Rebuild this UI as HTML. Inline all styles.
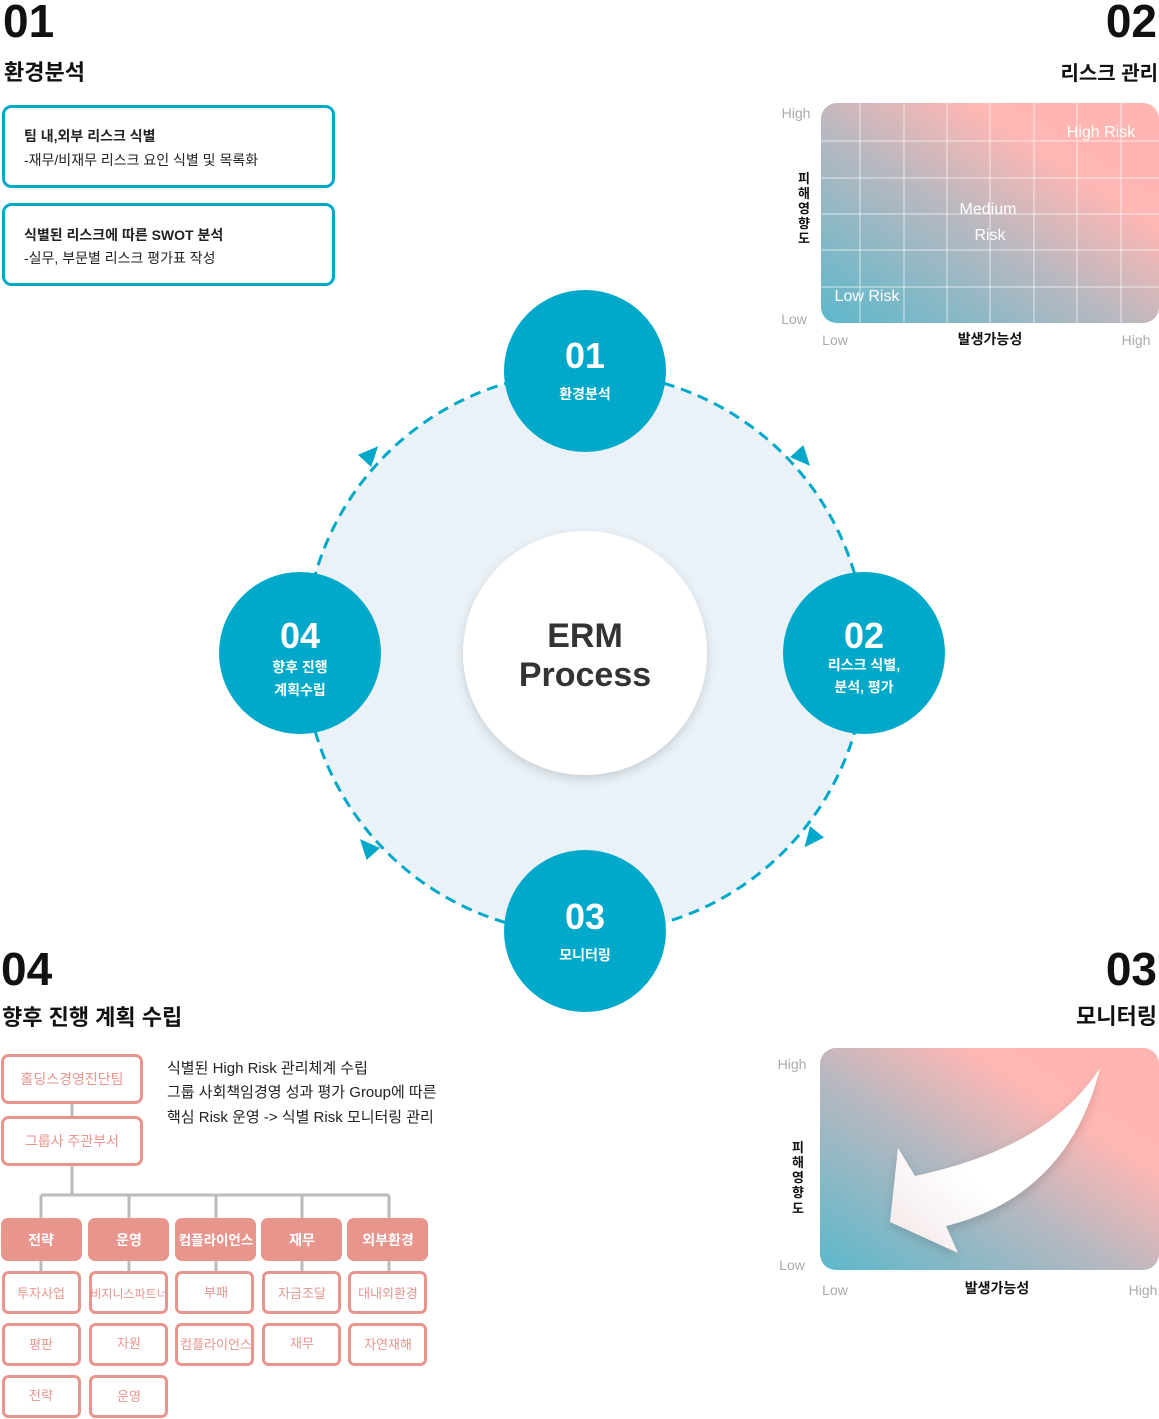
<!DOCTYPE html>
<html><head><meta charset="utf-8"><style>
html,body{margin:0;padding:0;background:#fff;}
svg{display:block;}
text{font-family:"Liberation Sans","Noto Sans CJK KR",sans-serif;}
</style></head><body>
<svg width="1159" height="1419" viewBox="0 0 1159 1419" xmlns="http://www.w3.org/2000/svg">
<defs>
<linearGradient id="g1" x1="0" y1="1" x2="1" y2="0">
<stop offset="0" stop-color="#5bb8cb"/><stop offset="0.45" stop-color="#b9b8c0"/><stop offset="0.72" stop-color="#ffb7b3"/><stop offset="1" stop-color="#ffb5b1"/>
</linearGradient>
<linearGradient id="g2" x1="0" y1="1" x2="1" y2="0">
<stop offset="0" stop-color="#5bb8cb"/><stop offset="0.45" stop-color="#b9b8c0"/><stop offset="0.72" stop-color="#ffb7b3"/><stop offset="1" stop-color="#ffb5b1"/>
</linearGradient>
<linearGradient id="ga" x1="0" y1="1" x2="1" y2="0">
<stop offset="0" stop-color="#f3e6e6"/><stop offset="0.4" stop-color="#ffffff"/><stop offset="1" stop-color="#ffffff"/>
</linearGradient>
<filter id="sh" x="-20%" y="-20%" width="140%" height="140%"><feDropShadow dx="0" dy="4" stdDeviation="5" flood-color="#000" flood-opacity="0.15"/></filter>
</defs>

<!-- headings -->
<text x="3" y="37" font-size="46" font-weight="bold" fill="#111">01</text>
<text x="4" y="80" font-size="22" font-weight="bold" fill="#111">환경분석</text>
<text x="1157" y="37" font-size="46" font-weight="bold" fill="#111" text-anchor="end">02</text>
<text x="1158" y="80" font-size="20" font-weight="bold" fill="#111" text-anchor="end">리스크 관리</text>
<text x="1" y="985" font-size="46" font-weight="bold" fill="#111">04</text>
<text x="2" y="1025" font-size="22" font-weight="bold" fill="#111">향후 진행 계획 수립</text>
<text x="1157" y="985" font-size="46" font-weight="bold" fill="#111" text-anchor="end">03</text>
<text x="1157" y="1024" font-size="22" font-weight="bold" fill="#111" text-anchor="end">모니터링</text>

<!-- 01 boxes -->
<rect x="3.5" y="106.5" width="330" height="80" rx="8" fill="#fff" stroke="#00a9c9" stroke-width="3"/>
<text x="24" y="141" font-size="14" font-weight="bold" fill="#222">팀 내,외부 리스크 식별</text>
<text x="24" y="165" font-size="14" fill="#222">-재무/비재무 리스크 요인 식별 및 목록화</text>
<rect x="3.5" y="204.5" width="330" height="80" rx="8" fill="#fff" stroke="#00a9c9" stroke-width="3"/>
<text x="24" y="240" font-size="14" font-weight="bold" fill="#222">식별된 리스크에 따른 SWOT 분석</text>
<text x="24" y="263" font-size="14" fill="#222">-실무, 부문별 리스크 평가표 작성</text>

<!-- 02 matrix -->
<rect x="821" y="103" width="338" height="220" rx="16" fill="url(#g1)"/>
<g stroke="#ffffff" stroke-opacity="0.45" stroke-width="1.5">
<line x1="860" y1="103" x2="860" y2="323"/><line x1="904" y1="103" x2="904" y2="323"/><line x1="947" y1="103" x2="947" y2="323"/><line x1="990" y1="103" x2="990" y2="323"/><line x1="1034" y1="103" x2="1034" y2="323"/><line x1="1077" y1="103" x2="1077" y2="323"/><line x1="1121" y1="103" x2="1121" y2="323"/>
<line x1="821" y1="141" x2="1159" y2="141"/><line x1="821" y1="178" x2="1159" y2="178"/><line x1="821" y1="214" x2="1159" y2="214"/><line x1="821" y1="250" x2="1159" y2="250"/><line x1="821" y1="287" x2="1159" y2="287"/>
</g>
<text x="1101" y="137" font-size="16" fill="#fff" text-anchor="middle">High Risk</text>
<text x="988" y="214" font-size="16" fill="#fff" text-anchor="middle">Medium</text>
<text x="990" y="240" font-size="16" fill="#fff" text-anchor="middle">Risk</text>
<text x="867" y="301" font-size="16" fill="#fff" text-anchor="middle">Low Risk</text>
<text x="796" y="118" font-size="14" fill="#aaa" text-anchor="middle">High</text>
<text x="794" y="324" font-size="14" fill="#aaa" text-anchor="middle">Low</text>
<text x="835" y="345" font-size="14" fill="#aaa" text-anchor="middle">Low</text>
<text x="1136" y="345" font-size="14" fill="#aaa" text-anchor="middle">High</text>
<text x="990" y="344" font-size="14" font-weight="bold" fill="#111" text-anchor="middle">발생가능성</text>
<g font-size="13" font-weight="bold" fill="#111" text-anchor="middle">
<text x="804" y="183">피</text><text x="804" y="198">해</text><text x="804" y="213">영</text><text x="804" y="228">향</text><text x="804" y="243">도</text>
</g>

<!-- cycle -->
<circle cx="585" cy="653" r="281" fill="#eaf2f8" stroke="#00a9c9" stroke-width="3" stroke-dasharray="11 7"/>
<circle cx="585" cy="653" r="122" fill="#fff" filter="url(#sh)"/>
<text x="585" y="647" font-size="34" font-weight="bold" fill="#333" text-anchor="middle">ERM</text>
<text x="585" y="686" font-size="34" font-weight="bold" fill="#333" text-anchor="middle">Process</text>
<g fill="#00a9c9">
<polygon points="12,0 -8,-9 -8,9" transform="translate(370,455) rotate(-47)"/>
<polygon points="12,0 -8,-9 -8,9" transform="translate(802,457) rotate(48)"/>
<polygon points="12,0 -8,-9 -8,9" transform="translate(812,838) rotate(129)"/>
<polygon points="12,0 -8,-9 -8,9" transform="translate(368,848) rotate(-132)"/>
<circle cx="585" cy="371" r="81"/><circle cx="864" cy="653" r="81"/><circle cx="585" cy="931" r="81"/><circle cx="300" cy="653" r="81"/>
</g>
<g fill="#fff" text-anchor="middle" font-weight="bold">
<text x="585" y="368" font-size="36">01</text><text x="585" y="399" font-size="14">환경분석</text>
<text x="864" y="648" font-size="36">02</text><text x="864" y="670" font-size="14">리스크 식별,</text><text x="864" y="692" font-size="14">분석, 평가</text>
<text x="585" y="929" font-size="36">03</text><text x="585" y="960" font-size="14">모니터링</text>
<text x="300" y="648" font-size="36">04</text><text x="300" y="672" font-size="14">향후 진행</text><text x="300" y="695" font-size="14">계획수립</text>
</g>

<!-- 04 org chart -->
<g stroke="#bbbbbb" stroke-width="3" fill="none">
<line x1="72" y1="1103" x2="72" y2="1117"/><line x1="72" y1="1166" x2="72" y2="1195"/>
<line x1="41" y1="1195" x2="389" y2="1195"/>
<line x1="41" y1="1195" x2="41" y2="1218"/><line x1="129" y1="1195" x2="129" y2="1218"/><line x1="216" y1="1195" x2="216" y2="1218"/><line x1="302" y1="1195" x2="302" y2="1218"/><line x1="389" y1="1195" x2="389" y2="1218"/>
<line x1="41" y1="1261" x2="41" y2="1272"/><line x1="129" y1="1261" x2="129" y2="1272"/><line x1="216" y1="1261" x2="216" y2="1272"/><line x1="302" y1="1261" x2="302" y2="1272"/><line x1="389" y1="1261" x2="389" y2="1272"/>
</g>
<g fill="#fff" stroke="#e8958d" stroke-width="3">
<rect x="2.5" y="1055.5" width="139" height="47" rx="6"/>
<rect x="2.5" y="1117.5" width="139" height="47" rx="6"/>
<rect x="3.5" y="1272.5" width="76" height="40" rx="5"/><rect x="90.5" y="1272.5" width="76" height="40" rx="5"/><rect x="176.5" y="1272.5" width="76" height="40" rx="5"/><rect x="263.5" y="1272.5" width="76" height="40" rx="5"/><rect x="349.5" y="1272.5" width="76" height="40" rx="5"/>
<rect x="3.5" y="1324.5" width="76" height="40" rx="5"/><rect x="90.5" y="1324.5" width="76" height="40" rx="5"/><rect x="176.5" y="1324.5" width="76" height="40" rx="5"/><rect x="263.5" y="1324.5" width="76" height="40" rx="5"/><rect x="349.5" y="1324.5" width="76" height="40" rx="5"/>
<rect x="3.5" y="1376.5" width="76" height="40" rx="5"/><rect x="90.5" y="1376.5" width="76" height="40" rx="5"/>
</g>
<g fill="#e8958d">
<rect x="1" y="1218" width="81" height="43" rx="7"/><rect x="88" y="1218" width="81" height="43" rx="7"/><rect x="175" y="1218" width="81" height="43" rx="7"/><rect x="261" y="1218" width="81" height="43" rx="7"/><rect x="347" y="1218" width="81" height="43" rx="7"/>
</g>
<g fill="#e8958d" text-anchor="middle" font-size="14">
<text x="72" y="1084">홀딩스경영진단팀</text>
<text x="72" y="1146">그룹사 주관부서</text>
</g>
<g fill="#fff" text-anchor="middle" font-size="14" font-weight="bold">
<text x="41" y="1245">전략</text><text x="129" y="1245">운영</text><text x="216" y="1245" font-size="13.5">컴플라이언스</text><text x="302" y="1245">재무</text><text x="388" y="1245">외부환경</text>
</g>
<g fill="#e8958d" text-anchor="middle" font-size="13">
<text x="41" y="1298">투자사업</text><text x="129" y="1298" font-size="12">비지니스파트너</text><text x="216" y="1297">부패</text><text x="302" y="1298">자금조달</text><text x="388" y="1298">대내외환경</text>
<text x="41" y="1349">평판</text><text x="129" y="1348">자원</text><text x="216" y="1349">컴플라이언스</text><text x="302" y="1348">재무</text><text x="388" y="1349">자연재해</text>
<text x="41" y="1400">전략</text><text x="129" y="1401">운영</text>
</g>
<g fill="#222" font-size="15">
<text x="167" y="1073">식별된 High Risk 관리체계 수립</text>
<text x="167" y="1097">그룹 사회책임경영 성과 평가 Group에 따른</text>
<text x="167" y="1122">핵심 Risk 운영 -&gt; 식별 Risk 모니터링 관리</text>
</g>

<!-- 03 monitoring -->
<rect x="820" y="1048" width="339" height="222" rx="16" fill="url(#g2)"/>
<path d="M1100,1068 C1060,1130 990,1160 915,1176 L898,1148 L890,1222 L958,1253 L946,1226 C1030,1205 1080,1150 1100,1068 Z" fill="url(#ga)" filter="url(#sh)"/>
<text x="792" y="1069" font-size="14" fill="#aaa" text-anchor="middle">High</text>
<text x="792" y="1270" font-size="14" fill="#aaa" text-anchor="middle">Low</text>
<text x="835" y="1295" font-size="14" fill="#aaa" text-anchor="middle">Low</text>
<text x="1143" y="1295" font-size="14" fill="#aaa" text-anchor="middle">High</text>
<text x="997" y="1293" font-size="14" font-weight="bold" fill="#111" text-anchor="middle">발생가능성</text>
<g font-size="13" font-weight="bold" fill="#111" text-anchor="middle">
<text x="798" y="1152">피</text><text x="798" y="1167">해</text><text x="798" y="1182">영</text><text x="798" y="1197">향</text><text x="798" y="1213">도</text>
</g>
</svg>
</body></html>
